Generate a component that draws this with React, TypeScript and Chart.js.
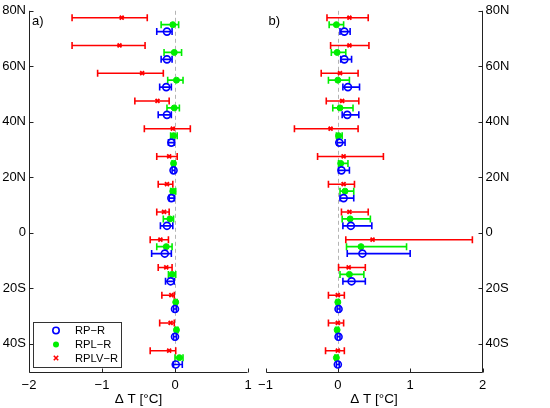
import React, { useEffect, useRef } from 'react';
import { Chart, registerables } from 'chart.js';

Chart.register(...registerables);

// ---------- data ----------
const latitudes = [75, 65, 55, 45, 35, 25, 15, 5, -5, -15, -25, -35, -45];
const latTicks = [-40, -20, 0, 20, 40, 60, 80];
const latTickLabels = ['40S', '20S', '0', '20N', '40N', '60N', '80N'];
const xTicksA = [-2, -1, 0, 1];
const xTickLabelsA = ['−2', '−1', '0', '1'];
const xTicksB = [-1, 0, 1, 2];
const xTickLabelsB = ['−1', '0', '1', '2'];
const seriesNames = ['RP−R', 'RPL−R', 'RPLV−R'];
const xTitle = 'Δ T [°C]';

// panel a
const aRP = [-0.11, -0.11, -0.12, -0.11, -0.05, -0.02, -0.05, -0.11, -0.14, -0.06, 0.0, 0.0, 0.01];
const aRPlo = [-0.25, -0.19, -0.21, -0.23, -0.09, -0.04, -0.08, -0.2, -0.32, -0.13, -0.02, -0.02, -0.02];
const aRPhi = [-0.04, -0.04, -0.05, -0.05, -0.01, 0.0, -0.01, -0.03, -0.05, -0.01, 0.02, 0.02, 0.1];
const aRPL = [-0.03, -0.01, 0.02, -0.01, -0.02, -0.02, -0.03, -0.07, -0.12, -0.04, 0.01, 0.02, 0.06];
const aRPLlo = [-0.19, -0.15, -0.1, -0.11, -0.06, -0.04, -0.06, -0.16, -0.25, -0.09, -0.01, 0.0, 0.0];
const aRPLhi = [0.05, 0.09, 0.11, 0.06, 0.03, 0.0, 0.01, -0.02, -0.04, 0.01, 0.03, 0.04, 0.11];
const aRPLV = [-0.73, -0.76, -0.45, -0.24, -0.03, -0.08, -0.11, -0.15, -0.2, -0.12, -0.05, -0.06, -0.08];
const aRPLVlo = [-1.41, -1.41, -1.06, -0.55, -0.42, -0.25, -0.23, -0.25, -0.34, -0.23, -0.18, -0.21, -0.34];
const aRPLVhi = [-0.38, -0.41, -0.16, -0.08, 0.21, 0.03, -0.03, -0.08, -0.09, -0.04, -0.01, -0.01, 0.01];

// panel b
const bRP = [0.09, 0.09, 0.14, 0.13, 0.02, 0.05, 0.08, 0.18, 0.34, 0.19, 0.01, 0.01, 0.0];
const bRPlo = [0.03, 0.04, 0.07, 0.06, -0.01, 0.01, 0.03, 0.07, 0.13, 0.07, -0.01, -0.01, -0.02];
const bRPhi = [0.17, 0.19, 0.3, 0.29, 0.1, 0.16, 0.22, 0.47, 1.0, 0.38, 0.03, 0.03, 0.02];
const bRPL = [-0.02, -0.01, 0.0, 0.03, 0.01, 0.04, 0.1, 0.17, 0.32, 0.16, 0.0, -0.01, -0.02];
const bRPLlo = [-0.12, -0.09, -0.13, -0.07, -0.02, 0.01, 0.03, 0.06, 0.12, 0.03, -0.02, -0.03, -0.04];
const bRPLhi = [0.08, 0.11, 0.16, 0.21, 0.06, 0.14, 0.22, 0.45, 0.95, 0.36, 0.02, 0.01, 0.0];
const bRPLV = [0.16, 0.16, 0.03, 0.06, -0.1, 0.08, 0.08, 0.16, 0.48, 0.15, 0.0, 0.0, 0.0];
const bRPLVlo = [-0.15, -0.1, -0.23, -0.16, -0.6, -0.28, -0.13, 0.05, 0.11, 0.01, -0.13, -0.13, -0.17];
const bRPLVhi = [0.42, 0.43, 0.28, 0.29, 0.28, 0.63, 0.23, 0.42, 1.86, 0.38, 0.09, 0.08, 0.09];

// ---------- styling ----------
const FONT = 'Liberation Sans, Arial, Helvetica, sans-serif';
const COLORS = ['#0000ff', '#00ee00', '#ff0000'];
const SERIES_OFFSET = [-2.5, 0, 2.5];
const AXIS_COLOR = '#222';

type Panel = {
  key: string;
  label: string;
  xMin: number;
  xMax: number;
  xTicks: number[];
  xTickLabels: string[];
  yPos: 'left' | 'right';
  yWidth: number;
  padding: { left: number; right: number; top: number; bottom: number };
  series: { c: number[]; lo: number[]; hi: number[] }[];
  legend: boolean;
};

const panelA: Panel = {
  key: 'a',
  label: 'a)',
  xMin: -2,
  xMax: 1,
  xTicks: xTicksA,
  xTickLabels: xTickLabelsA,
  yPos: 'left',
  yWidth: 29,
  padding: { left: 0, right: 302, top: 10, bottom: 0 },
  series: [
    { c: aRP, lo: aRPlo, hi: aRPhi },
    { c: aRPL, lo: aRPLlo, hi: aRPLhi },
    { c: aRPLV, lo: aRPLVlo, hi: aRPLVhi },
  ],
  legend: true,
};

const panelB: Panel = {
  key: 'b',
  label: 'b)',
  xMin: -1,
  xMax: 2,
  xTicks: xTicksB,
  xTickLabels: xTickLabelsB,
  yPos: 'right',
  yWidth: 67.5,
  padding: { left: 265.5, right: 0, top: 10, bottom: 0 },
  series: [
    { c: bRP, lo: bRPlo, hi: bRPhi },
    { c: bRPL, lo: bRPLlo, hi: bRPLhi },
    { c: bRPLV, lo: bRPLVlo, hi: bRPLVhi },
  ],
  legend: false,
};

function drawMarker(ctx: CanvasRenderingContext2D, i: number, x: number, y: number) {
  ctx.save();
  ctx.strokeStyle = COLORS[i];
  ctx.fillStyle = COLORS[i];
  if (i === 0) {
    ctx.lineWidth = 1.6;
    ctx.beginPath();
    ctx.arc(x, y, 3.2, 0, Math.PI * 2);
    ctx.stroke();
  } else if (i === 1) {
    ctx.beginPath();
    ctx.arc(x, y, 3, 0, Math.PI * 2);
    ctx.fill();
  } else {
    ctx.lineWidth = 1.6;
    const r = 2.2;
    ctx.beginPath();
    ctx.moveTo(x - r, y - r);
    ctx.lineTo(x + r, y + r);
    ctx.moveTo(x - r, y + r);
    ctx.lineTo(x + r, y - r);
    ctx.stroke();
  }
  ctx.restore();
}

function makePlugin(p: Panel) {
  return {
    id: 'panelDecor' + p.key,
    beforeDatasetsDraw(chart: any) {
      const { ctx, chartArea, scales } = chart;
      const xs = scales.x;
      const ys = scales.y;
      ctx.save();
      // zero dashed line
      ctx.strokeStyle = '#b4b4b4';
      ctx.lineWidth = 1;
      ctx.setLineDash([4, 3]);
      const x0 = Math.round(xs.getPixelForValue(0)) + 0.5;
      ctx.beginPath();
      ctx.moveTo(x0, chartArea.top);
      ctx.lineTo(x0, chartArea.bottom);
      ctx.stroke();
      ctx.setLineDash([]);
      // error bars
      p.series.forEach((s, i) => {
        ctx.strokeStyle = COLORS[i];
        ctx.lineWidth = 1.6;
        latitudes.forEach((lat, j) => {
          const y = ys.getPixelForValue(lat + SERIES_OFFSET[i]);
          const x1 = xs.getPixelForValue(s.lo[j]);
          const x2 = xs.getPixelForValue(s.hi[j]);
          const h = 3.5;
          ctx.beginPath();
          ctx.moveTo(x1, y);
          ctx.lineTo(x2, y);
          ctx.moveTo(x1, y - h);
          ctx.lineTo(x1, y + h);
          ctx.moveTo(x2, y - h);
          ctx.lineTo(x2, y + h);
          ctx.stroke();
        });
      });
      ctx.restore();
    },
    afterDraw(chart: any) {
      const { ctx, chartArea, scales } = chart;
      const xs = scales.x;
      const ys = scales.y;
      ctx.save();
      ctx.strokeStyle = AXIS_COLOR;
      ctx.lineWidth = 1;
      const bottom = Math.round(chartArea.bottom) + 0.5;
      const left = Math.round(chartArea.left) + 0.5;
      const right = Math.round(chartArea.right) - 0.5;
      const yAxisX = p.yPos === 'left' ? left : right;
      const dir = p.yPos === 'left' ? 1 : -1;
      ctx.beginPath();
      // bottom axis
      ctx.moveTo(left, bottom);
      ctx.lineTo(right, bottom);
      // y axis
      ctx.moveTo(yAxisX, chartArea.top);
      ctx.lineTo(yAxisX, bottom);
      // x ticks (inward)
      p.xTicks.forEach((v) => {
        const x = Math.round(xs.getPixelForValue(v)) + 0.5;
        ctx.moveTo(x, bottom);
        ctx.lineTo(x, bottom - 4);
      });
      // y ticks (inward)
      latTicks.forEach((v) => {
        const y = Math.round(ys.getPixelForValue(v)) + 0.5;
        ctx.moveTo(yAxisX, y);
        ctx.lineTo(yAxisX + dir * 4, y);
      });
      ctx.stroke();

      // panel label
      ctx.fillStyle = '#000';
      ctx.font = '13px ' + FONT;
      ctx.textBaseline = 'alphabetic';
      ctx.textAlign = 'left';
      ctx.fillText(p.label, chartArea.left + 3, 25);

      if (p.legend) {
        const bx = 33.5, by = 322.5, bw = 88, bh = 45;
        ctx.fillStyle = '#fff';
        ctx.fillRect(bx, by, bw, bh);
        ctx.strokeStyle = '#333';
        ctx.lineWidth = 1;
        ctx.strokeRect(bx, by, bw, bh);
        const rows = [330.5, 344.5, 358];
        seriesNames.forEach((name, i) => {
          drawMarker(ctx, i, 56, rows[i]);
          ctx.fillStyle = '#000';
          ctx.font = '11.2px ' + FONT;
          ctx.textAlign = 'left';
          ctx.textBaseline = 'middle';
          ctx.fillText(name, 75, rows[i] + 0.5);
        });
      }
      ctx.restore();
    },
  };
}

function buildConfig(p: Panel): any {
  const pointStyles = ['circle', 'circle', 'crossRot'];
  return {
    type: 'scatter',
    data: {
      datasets: p.series.map((s, i) => ({
        label: seriesNames[i],
        data: latitudes.map((lat, j) => ({ x: s.c[j], y: lat + SERIES_OFFSET[i] })),
        pointStyle: pointStyles[i],
        pointRadius: i === 0 ? 3.5 : i === 1 ? 3 : 2.8,
        pointBorderWidth: i === 0 ? 1.6 : i === 1 ? 1 : 1.8,
        borderColor: COLORS[i],
        backgroundColor: i === 0 ? 'rgba(0,0,0,0)' : COLORS[i],
        showLine: false,
      })),
    },
    options: {
      responsive: false,
      maintainAspectRatio: false,
      animation: false,
      events: [],
      layout: { padding: p.padding },
      plugins: {
        legend: { display: false },
        tooltip: { enabled: false },
        title: { display: false },
      },
      scales: {
        x: {
          type: 'linear',
          position: 'bottom',
          min: p.xMin,
          max: p.xMax,
          afterBuildTicks: (s: any) => {
            s.ticks = p.xTicks.map((v) => ({ value: v }));
          },
          afterFit: (s: any) => {
            s.height = 36.5;
          },
          ticks: {
            autoSkip: false,
            maxRotation: 0,
            padding: 6,
            color: '#000',
            font: { family: FONT, size: 13 },
            callback: (v: number) => {
              const k = p.xTicks.indexOf(v);
              return k >= 0 ? p.xTickLabels[k] : '';
            },
          },
          grid: { display: false, drawTicks: false },
          border: { display: false },
          title: {
            display: true,
            text: xTitle,
            color: '#000',
            font: { family: FONT, size: 13.5 },
            padding: { top: 0, bottom: 1 },
          },
        },
        y: {
          type: 'linear',
          position: p.yPos,
          min: -50,
          max: 80,
          afterBuildTicks: (s: any) => {
            s.ticks = latTicks.map((v) => ({ value: v }));
          },
          afterFit: (s: any) => {
            s.width = p.yWidth;
          },
          ticks: {
            autoSkip: false,
            padding: 3,
            color: '#000',
            font: { family: FONT, size: 13 },
            callback: (v: number) => {
              const k = latTicks.indexOf(v);
              return k >= 0 ? latTickLabels[k] : '';
            },
          },
          grid: { display: false, drawTicks: false },
          border: { display: false },
        },
      },
    },
    plugins: [makePlugin(p)],
  };
}

export default function App() {
  const refA = useRef<HTMLCanvasElement>(null);
  const refB = useRef<HTMLCanvasElement>(null);

  useEffect(() => {
    const a = new Chart(refA.current as HTMLCanvasElement, buildConfig(panelA));
    const b = new Chart(refB.current as HTMLCanvasElement, buildConfig(panelB));
    return () => {
      a.destroy();
      b.destroy();
    };
  }, []);

  const canvasStyle: React.CSSProperties = {
    position: 'absolute',
    left: 0,
    top: 0,
    width: 550,
    height: 408,
  };

  return (
    <div
      style={{
        position: 'fixed',
        left: 0,
        top: 0,
        width: 550,
        height: 408,
        background: '#fff',
      }}
    >
      <canvas ref={refA} width={550} height={408} style={canvasStyle} />
      <canvas ref={refB} width={550} height={408} style={canvasStyle} />
    </div>
  );
}
